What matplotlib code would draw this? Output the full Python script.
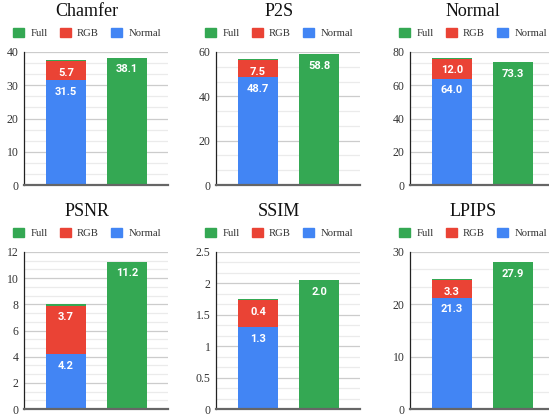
import numpy as np
import matplotlib.pyplot as plt
from matplotlib.patches import Patch
from matplotlib.ticker import MultipleLocator

# data: left bar = stacked Normal + RGB + Full, right bar = Full
metrics = ["Chamfer", "P2S", "Normal", "PSNR", "SSIM", "LPIPS"]
normal_vals = [[31.5, 0.1], [48.7, 0.15], [64.0, 0.2], [4.2, 0.03], [1.31, 0.006], [21.3, 0.08]]
rgb_vals = [[5.7, 0.1], [7.5, 0.15], [12.0, 0.2], [3.7, 0.03], [0.42, 0.006], [3.3, 0.08]]
full_vals = [[0.3, 38.1], [0.5, 58.8], [0.4, 73.3], [0.1, 11.2], [0.02, 2.04], [0.2, 27.9]]
y_max = [40, 60, 80, 12, 2.5, 30]
y_step = [10, 20, 20, 2, 0.5, 10]
series_names = ["Full", "RGB", "Normal"]

BLUE = "#4285F4"
RED = "#EA4335"
GREEN = "#34A853"
SERIF = "Liberation Serif"

W, H = 549, 416
fig = plt.figure(figsize=(W / 100, H / 100), dpi=100)

cols = [24, 216, 410]
rows = [(52, 133), (252, 157)]
ax_w = 144


def add_px_axes(left, top, width, height):
    return fig.add_axes([left / W, 1 - (top + height) / H, width / W, height / H])


def label_seg(ax, x, bottom, h, ymax):
    if h < 0.06 * ymax:
        return
    ax.annotate("%.1f" % h, (x, bottom + h), xytext=(0, -8.5), textcoords="offset points",
                ha="center", va="center", color="white", fontsize=8,
                fontweight="bold", family="Roboto", zorder=5)


for i, name in enumerate(metrics):
    r, c = divmod(i, 3)
    top, hgt = rows[r]
    left = cols[c]
    ax = add_px_axes(left, top, ax_w, hgt)
    x = np.arange(2)
    nv = np.array(normal_vals[i])
    rv = np.array(rgb_vals[i])
    fv = np.array(full_vals[i])
    bw = 0.66
    ax.bar(x, nv, bw, color=BLUE, zorder=3)
    ax.bar(x, rv, bw, bottom=nv, color=RED, zorder=3)
    ax.bar(x, fv, bw, bottom=nv + rv, color=GREEN, zorder=3)
    for k in range(2):
        label_seg(ax, x[k], 0, nv[k], y_max[i])
        label_seg(ax, x[k], nv[k], rv[k], y_max[i])
        label_seg(ax, x[k], nv[k] + rv[k], fv[k], y_max[i])

    ax.set_xlim(-0.69, 1.67)
    ax.set_ylim(0, y_max[i])
    ax.yaxis.set_major_locator(MultipleLocator(y_step[i]))
    ax.yaxis.set_minor_locator(MultipleLocator(y_step[i] / 3))
    ax.set_axisbelow(True)
    ax.grid(axis="y", which="major", color="#cccccc", lw=0.9)
    ax.grid(axis="y", which="minor", color="#ebebeb", lw=0.9)
    ax.set_xticks([])
    ax.tick_params(axis="y", which="both", length=0, pad=4, labelsize=8.5, labelcolor="#333333")
    for lab in ax.get_yticklabels():
        lab.set_family(SERIF)
    ax.yaxis.set_major_formatter(plt.FuncFormatter(lambda v, p: ("%g" % v)))
    for s in ["top", "right"]:
        ax.spines[s].set_visible(False)
    ax.spines["left"].set_color("#222222")
    ax.spines["left"].set_linewidth(0.9)
    ax.spines["bottom"].set_color("#666666")
    ax.spines["bottom"].set_linewidth(1.6)
    ax.spines["bottom"].set_zorder(4)

    cx = left + 63
    fig.text(cx / W, 1 - (top - 40) / H, name, ha="center", va="center",
             family=SERIF, fontsize=13, color="#111111")
    handles = [Patch(color=GREEN), Patch(color=RED), Patch(color=BLUE)]
    fig.legend(handles, series_names, loc="center", bbox_to_anchor=(cx / W, 1 - (top - 19) / H),
               ncol=3, frameon=False, handlelength=1.0, handleheight=1.0,
               handletextpad=0.6, columnspacing=1.15, borderpad=0,
               prop={"family": SERIF, "size": 7.7}, labelcolor="#333333")

fig.savefig("out.png", dpi=100)
